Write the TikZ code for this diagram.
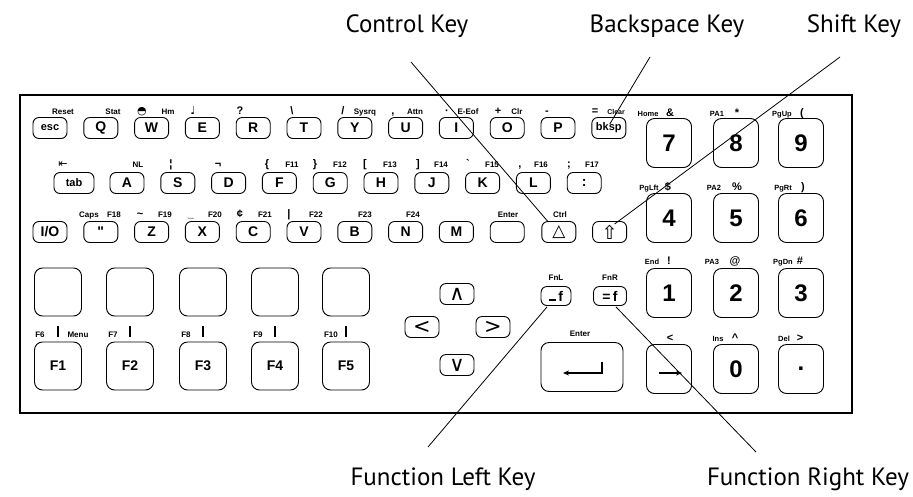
\documentclass[tikz,border=0pt]{standalone}
\usepackage{fontspec}
\setmainfont{Liberation Sans}
\newfontfamily\calloutfont{PT Sans}
\newfontfamily\glyphfont{DejaVu Sans}
\usetikzlibrary{arrows.meta, calc, positioning}
\newcommand{\gly}[1]{{\glyphfont\mdseries #1}}
\newcommand{\keytxt}[1]{{\fontsize{11}{11}\selectfont #1}}
\tikzset{
  keybase/.style={rectangle, rounded corners=6pt, draw=black, line width=0.9pt,
    inner sep=0pt, font=\bfseries\fontsize{14}{14}\selectfont},
  smallkey/.style={keybase, minimum width=34pt, minimum height=21pt},
  arrowkey/.style={smallkey, font=\fontsize{21}{21}\selectfont},
  fnkey/.style={keybase, rounded corners=8pt, minimum width=47pt, minimum height=48pt},
  padkey/.style={keybase, rounded corners=8pt, minimum width=45pt, minimum height=49pt,
    font=\bfseries\fontsize{24}{24}\selectfont},
  wordlbl/.style={inner sep=0pt, anchor=base, font=\bfseries\fontsize{8}{8}\selectfont},
  padword/.style={wordlbl, font=\bfseries\fontsize{7.5}{7.5}\selectfont},
  symlbl/.style={inner sep=0pt, anchor=base, font=\bfseries\fontsize{11}{11}\selectfont},
  calloutlbl/.style={inner sep=0pt, font=\calloutfont\fontsize{25}{25}\selectfont},
  board/.style={rectangle, draw=black, line width=2pt, minimum width=832pt,
    minimum height=318pt, inner sep=0pt},
  leader/.style={line width=0.8pt},
  stem/.style={line width=1.2pt}
}

\begin{document}
\begin{tikzpicture}[x=1pt, y=-1pt]
  \useasboundingbox (0,0) rectangle (913,496);
  \node[board] (board) at (436,254) {};

  % top row
  \foreach \name/\lbl [count=\i from 0] in {esc/\keytxt{esc}, q/Q, w/W, e/E, r/R, t/T,
      y/Y, u/U, i/I, o/O, p/P, bksp/\keytxt{bksp}}
    \node[smallkey] (\name) at ({50+50.8*\i},128) {\lbl};
  \foreach \x/\lbl [count=\i] in {63/Reset, 113/Stat, 168/Hm, 365/Sysrq, 415/Attn,
      468/E-Eof, 517/Clr}
    \node[wordlbl] (topw\i) at (\x,114) {\lbl};
  \node[wordlbl, font=\bfseries\fontsize{7}{7}\selectfont] (clearw) at (616,114) {Clear};
  \foreach \x/\lbl [count=\i] in {142/\gly{◓}, 193/\gly{♩}, 240/?, 292/\textbackslash,
      343/{/}, 393/{,}, 447/·, 498/+, 547/-, 595/=}
    \node[symlbl] (tops\i) at (\x,114) {\lbl};

  % home row
  \node[smallkey, minimum width=40pt] (tab) at (74,183) {\keytxt{tab}};
  \foreach \name/\lbl [count=\i from 0] in {a/A, s/S, d/D, f/F, g/G, h/H, j/J, k/K,
      l/L, colon/:}
    \node[smallkey] (\name) at ({127+50.8*\i},183) {\lbl};
  \foreach \x/\lbl [count=\i] in {138/NL, 292/F11, 340/F12, 390/F13, 441/F14,
      492/F15, 541/F16, 592/F17}
    \node[wordlbl] (midw\i) at (\x,167) {\lbl};
  \foreach \x/\lbl [count=\i] in {63/\gly{⇤}, 171/¦, 218/¬, 267/\{, 315/\}, 365/{[},
      418/{]}, 468/\textasciigrave, 520/{,}, 569/;}
    \node[symlbl] (mids\i) at (\x,167) {\lbl};

  % bottom row
  \node[smallkey] (io) at (50,232) {I/O};
  \foreach \name/\lbl [count=\i from 1] in {quote/\textquotedbl, z/Z, x/X, c/C, v/V,
      b/B, n/N, m/M, enterx/{}}
    \node[smallkey] (\name) at ({50+50.8*\i},232) {\lbl};
  \node[smallkey, font=\fontsize{17}{17}\selectfont] (ctrl) at (558.8,232) {\gly{△}};
  \node[smallkey, font=\fontsize{19}{19}\selectfont] (shift) at (609.6,232) {\gly{⇧}};
  \foreach \x/\lbl [count=\i] in {89/Caps, 114/F18, 165/F19, 215/F20, 265/F21,
      316/F22, 365/F23, 413/F24, 508/Enter, 560/Ctrl}
    \node[wordlbl] (botw\i) at (\x,217) {\lbl};
  \foreach \x/\lbl [count=\i] in {140/\textasciitilde, 191/\_, 240/¢, 289/|}
    \node[symlbl] (bots\i) at (\x,217) {\lbl};

  % function keys
  \foreach \i/\x in {1/58, 2/130, 3/203, 4/275, 5/346} {
    \node[fnkey] (blank\i) at (\x,292) {};
    \node[fnkey] (fkey\i) at (\x,366) {F\i};
    \draw[stem] ($(blank\i.south)+(0,10)$) -- ($(fkey\i.north)+(0,-5)$);
  }
  \foreach \n/\x in {6/40, 7/113, 8/186, 9/258, 10/331}
    \node[wordlbl] (fl\n) at (\x,337) {F\n};
  \node[wordlbl] (menu) at (78,337) {Menu};

  % cursor keys
  \node[arrowkey] (arrup) at (457,294) {\gly{∧}};
  \node[arrowkey] (arrleft) at (422,327) {\gly{<}};
  \node[arrowkey] (arrright) at (493,327) {\gly{>}};
  \node[arrowkey] (arrdown) at (457,365) {\gly{∨}};

  % fn keys and enter
  \node[smallkey, minimum width=30pt, minimum height=19pt] (fnl) at (556,296)
    {\rule[0.5pt]{7pt}{1.6pt}\,f};
  \node[smallkey, minimum width=33pt, minimum height=19pt] (fnr) at (610,296) {=\,f};
  \node[wordlbl] (fnllbl) at (556,280) {FnL};
  \node[wordlbl] (fnrlbl) at (610,280) {FnR};
  \node[keybase, rounded corners=8pt, minimum width=82pt, minimum height=49pt]
    (enter) at (582,367) {};
  \node[wordlbl] (enterlbl) at (580,336) {Enter};
  \draw[-{Stealth[length=6pt,width=5pt]}, line width=1.1pt]
    ($(enter.center)+(20,-5)$) |- ($(enter.center)+(-19,6)$);

  % numeric pad
  \foreach \name/\lbl/\x/\y in {n7/7/669/143, n8/8/736/143, n9/9/801/143,
      n4/4/669/218, n5/5/736/218, n6/6/801/218, n1/1/669/293, n2/2/736/293,
      n3/3/801/293, nright/{}/669/369, n0/0/736/369, ndot/./801/369}
    \node[padkey] (\name) at (\x,\y) {\lbl};
  \draw[-{Stealth[length=6pt,width=5pt]}, line width=1.1pt]
    ($(nright.center)+(-10,4)$) -- ($(nright.center)+(13,4)$);
  \foreach \lbl/\x/\y [count=\i] in {Home/648/116, PA1/717/116, PgUp/782/116,
      PgLft/649/190, PA2/714/190, PgRt/783/190, End/652/264, PA3/712/264,
      PgDn/783/264, Ins/718/341, Del/784/341}
    \node[padword] (padw\i) at (\x,\y) {\lbl};
  \foreach \lbl/\x/\y [count=\i] in {{\&}/670/116, {*}/737/116, {(}/802/116,
      {\$}/668/190, {\%}/737/190, {)}/803/190, {!}/669/264, {@}/735/264,
      {\#}/800/264, {<}/670/341, {\textasciicircum}/735/341, {>}/800/341}
    \node[symlbl] (pads\i) at (\x,\y) {\lbl};

  % callouts
  \node[calloutlbl] (ctrlcap) at (407,26) {Control Key};
  \node[calloutlbl] (bkspcap) at (667,26) {Backspace Key};
  \node[calloutlbl] (shiftcap) at (854,26) {Shift Key};
  \node[calloutlbl] (fnlcap) at (443,479) {Function Left Key};
  \node[calloutlbl] (fnrcap) at (808,479) {Function Right Key};
  \coordinate (ctrlend) at (411,62);
  \coordinate (bkspend) at (650,57);
  \coordinate (shiftend) at (840,57);
  \coordinate (fnlend) at (428,447);
  \coordinate (fnrend) at (756,452);
  \draw[leader] (ctrlend) -- ($(ctrl.north west)+(7,1)$);
  \draw[leader] (bkspend) -- ($(bksp.center)+(1,-4)$);
  \draw[leader] (shiftend) -- ($(shift.center)+(5,-8)$);
  \draw[leader] (fnlend) -- ($(fnl.south)+(-9,1)$);
  \draw[leader] (fnrend) -- ($(fnr.south)+(6,1)$);
\end{tikzpicture}
\end{document}
